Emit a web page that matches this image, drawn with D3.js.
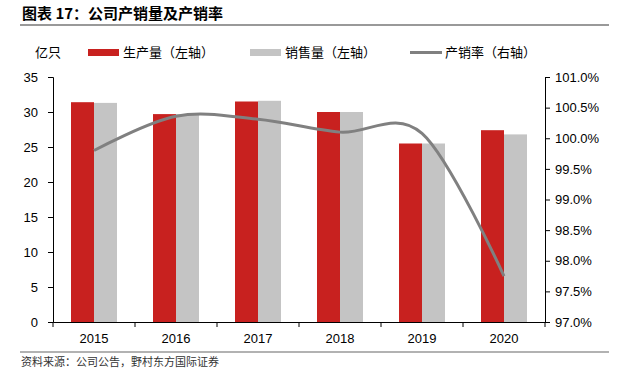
<!DOCTYPE html>
<html>
  <head>
    <meta charset="utf-8">
    <title></title>
    <style>
      body {
        margin: 0;
        background: #fff;
        font-family: "Liberation Sans", Arial, sans-serif;
      }
      svg {
        display: block;
      }
      .cn {
        font-family: "Noto Sans CJK SC", sans-serif;
      }
      .axis text {
        font-size: 13px;
        fill: #000;
        font-family: "Liberation Sans", Arial, sans-serif;
      }
      .axis .domain, .axis line {
        stroke: #000;
      }
    </style>
  </head>
  <body>
    <div id="chart"></div>
    <script src="https://cdn.jsdelivr.net/npm/d3@7"></script>
    <script>

      let years = ['2015', '2016', '2017', '2018', '2019', '2020'];
      let production = [31.4, 29.7, 31.5, 30.0, 25.5, 27.4];
      let sales = [31.3, 29.7, 31.6, 30.0, 25.5, 26.8];
      let rate = [99.80, 100.36, 100.31, 100.10, 100.08, 97.75];
      let leftTicks = [0, 5, 10, 15, 20, 25, 30, 35];
      let rightTicks = [97, 97.5, 98, 98.5, 99, 99.5, 100, 100.5, 101];

      let W = 632, H = 384;
      let svg = d3.select('#chart').append('svg')
        .attr('width', W)
        .attr('height', H);

      // title + rules
      svg.append('text')
        .attr('class', 'cn')
        .attr('x', 22)
        .attr('y', 19)
        .attr('font-size', 15)
        .attr('font-weight', 700)
        .text('图表 17：公司产销量及产销率');

      svg.append('line')
        .attr('x1', 20).attr('x2', 609)
        .attr('y1', 25).attr('y2', 25)
        .attr('stroke', '#999').attr('stroke-width', 2);

      svg.append('line')
        .attr('x1', 20).attr('x2', 609)
        .attr('y1', 352).attr('y2', 352)
        .attr('stroke', '#999').attr('stroke-width', 1.5);

      svg.append('text')
        .attr('class', 'cn')
        .attr('x', 21)
        .attr('y', 366)
        .attr('font-size', 11)
        .attr('fill', '#333')
        .text('资料来源：公司公告，野村东方国际证券');

      let margin = {left: 53, right: 87, top: 77, bottom: 62};
      let x = d3.scaleBand()
        .domain(years)
        .range([margin.left, W - margin.right]);

      let yL = d3.scaleLinear()
        .domain([0, 35])
        .range([H - margin.bottom, margin.top]);

      let yR = d3.scaleLinear()
        .domain([97, 101])
        .range([H - margin.bottom, margin.top]);

      let sub = d3.scaleBand()
        .domain(['p', 's'])
        .range([0, 46]);
      let off = (x.bandwidth() - 46) / 2;

      let g = svg.append('g');

      g.selectAll('rect.p')
        .data(production)
        .join('rect')
        .attr('class', 'p')
        .attr('x', (d, i) => x(years[i]) + off + sub('p'))
        .attr('width', sub.bandwidth())
        .attr('y', d => yL(d))
        .attr('height', d => yL(0) - yL(d))
        .attr('fill', '#C8211F');

      g.selectAll('rect.s')
        .data(sales)
        .join('rect')
        .attr('class', 's')
        .attr('x', (d, i) => x(years[i]) + off + sub('s'))
        .attr('width', sub.bandwidth())
        .attr('y', d => yL(d))
        .attr('height', d => yL(0) - yL(d))
        .attr('fill', '#C4C4C4');

      let line = d3.line()
        .x((d, i) => x(years[i]) + x.bandwidth() / 2)
        .y(d => yR(d))
        .curve(d3.curveCatmullRom.alpha(0));

      g.append('path')
        .datum(rate)
        .attr('d', line)
        .attr('fill', 'none')
        .attr('stroke', '#808080')
        .attr('stroke-width', 3);

      // axes
      svg.append('g')
        .attr('class', 'axis')
        .attr('transform', 'translate(' + margin.left + ',0)')
        .call(d3.axisLeft(yL).tickValues(leftTicks).tickSize(5).tickSizeOuter(5).tickPadding(10));

      svg.append('g')
        .attr('class', 'axis')
        .attr('transform', 'translate(' + (W - margin.right) + ',0)')
        .call(d3.axisRight(yR).tickValues(rightTicks).tickSize(5).tickSizeOuter(5).tickPadding(5)
          .tickFormat(d => d.toFixed(1) + '%'));

      let xAxis = svg.append('g')
        .attr('class', 'axis')
        .attr('transform', 'translate(0,' + (H - margin.bottom) + ')')
        .call(d3.axisBottom(x).tickSize(0).tickPadding(12));

      // category separators on the x axis
      let seps = years.map(y => x(y)).concat([x.range()[1]]);
      xAxis.selectAll('line.sep')
        .data(seps)
        .join('line')
        .attr('class', 'sep')
        .attr('x1', d => d).attr('x2', d => d)
        .attr('y1', 0).attr('y2', 5)
        .attr('stroke', '#000');

      // legend
      let leg = svg.append('g').attr('class', 'cn').attr('font-size', 13);
      leg.append('text').attr('x', 35).attr('y', 57).text('亿只');
      leg.append('rect').attr('x', 88).attr('y', 49).attr('width', 31).attr('height', 7).attr('fill', '#C8211F');
      leg.append('text').attr('x', 123).attr('y', 57).text('生产量（左轴）');
      leg.append('rect').attr('x', 250).attr('y', 49).attr('width', 31).attr('height', 7).attr('fill', '#C4C4C4');
      leg.append('text').attr('x', 285).attr('y', 57).text('销售量（左轴）');
      leg.append('line').attr('x1', 410).attr('x2', 442).attr('y1', 52.5).attr('y2', 52.5)
        .attr('stroke', '#808080').attr('stroke-width', 3);
      leg.append('text').attr('x', 445).attr('y', 57).text('产销率（右轴）');

    </script>
  </body>
</html>
